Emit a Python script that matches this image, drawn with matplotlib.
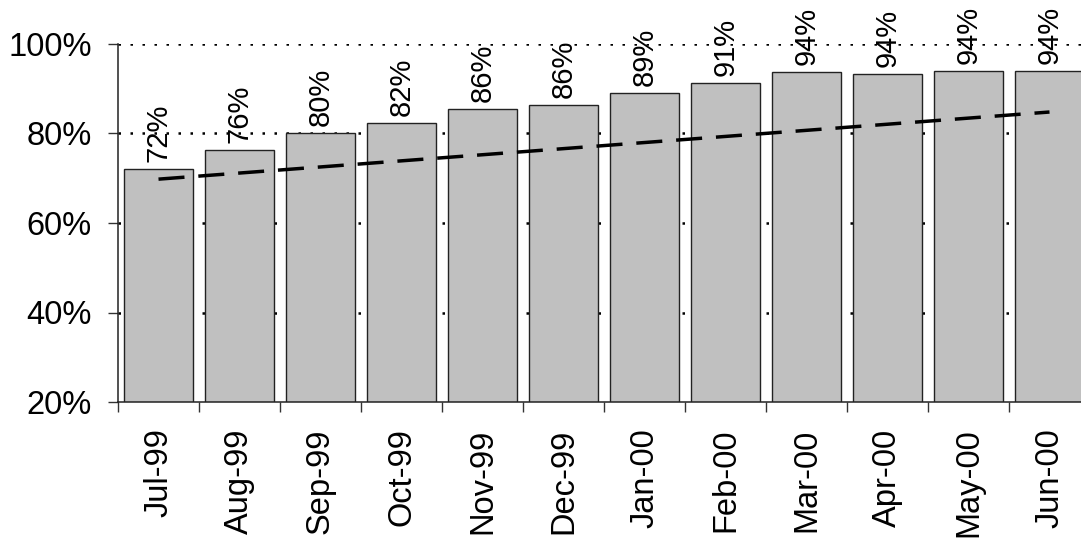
import numpy as np
import matplotlib
matplotlib.use('Agg')
import matplotlib.pyplot as plt
from matplotlib.ticker import FuncFormatter

# monthly values (%)
months = ['Jul-99', 'Aug-99', 'Sep-99', 'Oct-99', 'Nov-99', 'Dec-99',
          'Jan-00', 'Feb-00', 'Mar-00', 'Apr-00', 'May-00', 'Jun-00']
values = [72.1, 76.3, 80.1, 82.3, 85.5, 86.4, 89.1, 91.2, 93.7, 93.4, 94.0, 94.0]
labels = ['72%', '76%', '80%', '82%', '86%', '86%', '89%', '91%', '94%', '94%', '94%', '94%']
# dashed trend line, first and last month
trend = [69.8, 84.8]

plt.rcParams['font.family'] = ['Liberation Sans', 'DejaVu Sans']
fs = 23.5

fig = plt.figure(figsize=(10.81, 5.40), dpi=100)
ax = fig.add_axes([118 / 1081, 1 - 402 / 540, 972 / 1081, 358 / 540])

x = np.arange(len(months))
ax.bar(x, values, width=0.84, color='#c0c0c0', edgecolor='#222222',
       linewidth=1.0, zorder=2)

ax.plot([x[0], x[-1]], trend, color='black', lw=2.5,
        dashes=(7.5, 4), zorder=3)

for xi, v, lab in zip(x, values, labels):
    ax.annotate(lab, (xi, v), xytext=(0, 5), textcoords='offset points',
                rotation=90, ha='center', va='bottom', fontsize=21,
                annotation_clip=False)

ax.set_xlim(-0.5, len(months) - 0.5)
ax.set_ylim(20, 100)
ax.set_yticks([20, 40, 60, 80, 100])
ax.yaxis.set_major_formatter(FuncFormatter(lambda v, p: '%d%%' % v))

# ticks at the category boundaries, labels at the centres
ax.set_xticks(np.arange(-0.5, len(months), 1.0))
ax.set_xticklabels([])
ax.set_xticks(x, minor=True)
ax.set_xticklabels(months, minor=True, rotation=90, fontsize=fs)
ax.tick_params(axis='x', which='minor', length=0, pad=19)
ax.tick_params(axis='x', which='major', length=7, width=1.0, color='#333333')
ax.tick_params(axis='y', length=7, width=1.0, color='#333333', pad=12, labelsize=fs)

for yv in [40, 60, 80, 100]:
    ax.axhline(yv, color='black', lw=1.8, linestyle=(0, (1, 3.8)), zorder=1)

for s in ['top', 'right']:
    ax.spines[s].set_visible(False)
for s in ['left', 'bottom']:
    ax.spines[s].set_color('#222222')
    ax.spines[s].set_linewidth(1.1)

fig.savefig('out.png', dpi=100)
